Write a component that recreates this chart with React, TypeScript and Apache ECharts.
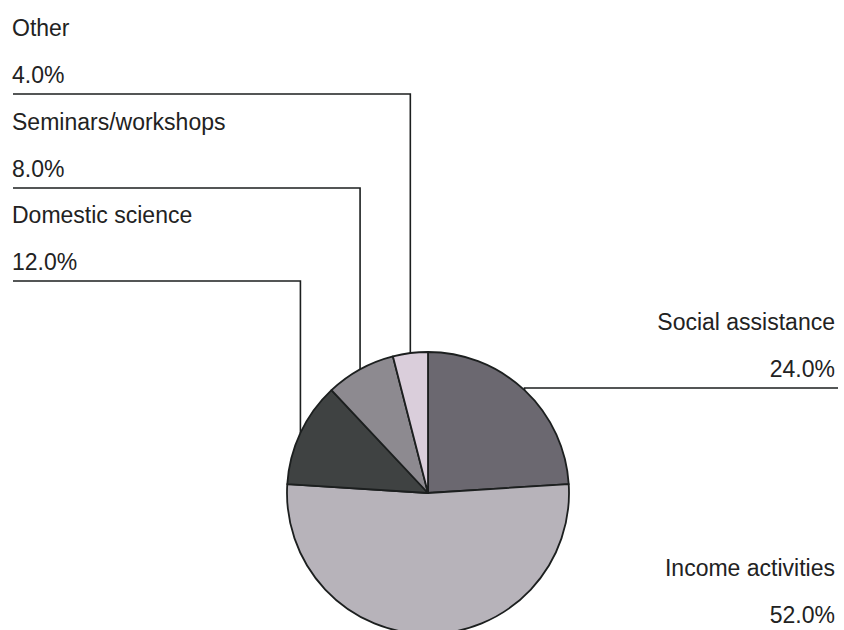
import React, { useEffect, useRef } from "react";
import * as echarts from "echarts";

// ---- data ----
const categories = [
  "Social assistance",
  "Income activities",
  "Domestic science",
  "Seminars/workshops",
  "Other",
];
const shares = [24, 52, 12, 8, 4];

// ---- styling / layout ----
const sliceColors = ["#6b6870", "#b7b3ba", "#3f4242", "#8d8a90", "#dacedb"];
const leaderLevels = [388, 634, 281, 188, 94]; // y of each label's horizontal leader line
const labelSides = ["right", "right", "left", "left", "left"];
const LEFT_EDGE = 13;
const RIGHT_EDGE = 838;
const INK = "#1c1f1f";

export default function App() {
  const ref = useRef<HTMLDivElement>(null);

  useEffect(() => {
    const chart = echarts.init(ref.current!, null, { renderer: "svg" });
    chart.setOption({
      animation: false,
      backgroundColor: "#ffffff",
      series: [
        {
          type: "pie",
          center: [428, 493],
          radius: 141,
          startAngle: 90,
          clockwise: true,
          avoidLabelOverlap: false,
          data: categories.map((name, i) => ({
            name,
            value: shares[i],
            itemStyle: { color: sliceColors[i] },
          })),
          itemStyle: { borderColor: INK, borderWidth: 1.8 },
          emphasis: { disabled: true },
          label: {
            show: true,
            position: "outside",
            formatter: (p: any) => `${p.name}\n${Number(p.percent).toFixed(1)}%`,
            fontFamily: "'Liberation Sans', Arial, sans-serif",
            fontSize: 23,
            lineHeight: 47,
            color: "#222222",
          },
          labelLine: {
            show: true,
            length: 10,
            length2: 10,
            lineStyle: { color: INK, width: 1.6 },
          },
          labelLayout: (params: any) => {
            const i = params.dataIndex;
            const pts = params.labelLinePoints;
            const start = pts && pts[0] ? pts[0] : [0, 0];
            const ly = leaderLevels[i];
            const right = labelSides[i] === "right";
            const endX = right ? RIGHT_EDGE : LEFT_EDGE;
            return {
              x: right ? RIGHT_EDGE - 3 : LEFT_EDGE - 1,
              y: ly + 4,
              align: right ? "right" : "left",
              verticalAlign: "bottom",
              labelLinePoints: [
                [start[0], start[1]],
                [start[0], ly],
                [endX, ly],
              ],
            };
          },
        },
      ],
    });
    return () => chart.dispose();
  }, []);

  return (
    <div
      ref={ref}
      style={{ position: "absolute", left: 0, top: 0, width: 844, height: 630 }}
    />
  );
}
